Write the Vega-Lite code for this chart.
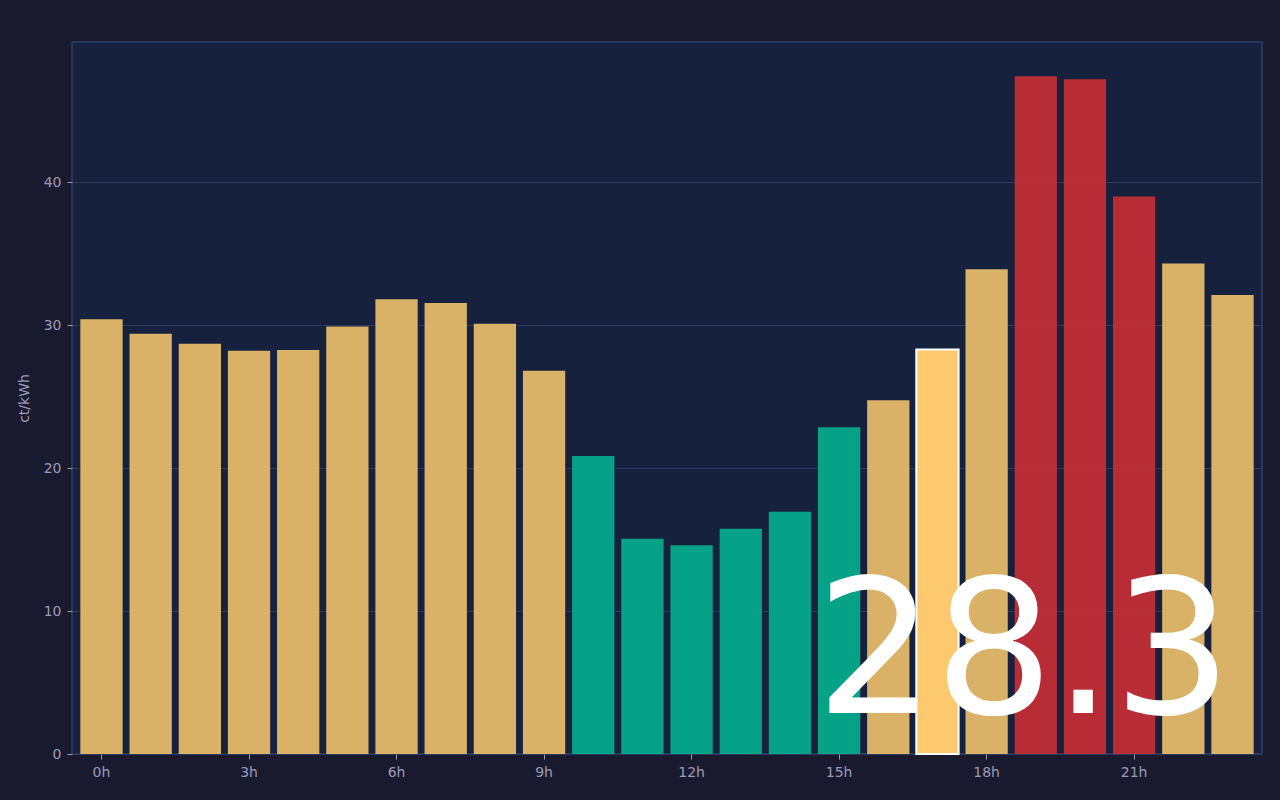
{
  "$schema": "https://vega.github.io/schema/vega-lite/v6.json",
  "width": 1190,
  "height": 712,
  "autosize": {"type": "none"},
  "padding": {"left": 72, "top": 42, "right": 18, "bottom": 46},
  "background": "#1a1a2e",
  "data": {
    "values": [
      {"hour": 0, "price": 30.4, "tier": "normal"},
      {"hour": 1, "price": 29.4, "tier": "normal"},
      {"hour": 2, "price": 28.7, "tier": "normal"},
      {"hour": 3, "price": 28.2, "tier": "normal"},
      {"hour": 4, "price": 28.25, "tier": "normal"},
      {"hour": 5, "price": 29.9, "tier": "normal"},
      {"hour": 6, "price": 31.8, "tier": "normal"},
      {"hour": 7, "price": 31.55, "tier": "normal"},
      {"hour": 8, "price": 30.1, "tier": "normal"},
      {"hour": 9, "price": 26.8, "tier": "normal"},
      {"hour": 10, "price": 20.85, "tier": "cheap"},
      {"hour": 11, "price": 15.05, "tier": "cheap"},
      {"hour": 12, "price": 14.6, "tier": "cheap"},
      {"hour": 13, "price": 15.75, "tier": "cheap"},
      {"hour": 14, "price": 16.95, "tier": "cheap"},
      {"hour": 15, "price": 22.85, "tier": "cheap"},
      {"hour": 16, "price": 24.75, "tier": "normal"},
      {"hour": 17, "price": 28.3, "tier": "normal", "current": true},
      {"hour": 18, "price": 33.9, "tier": "normal"},
      {"hour": 19, "price": 47.4, "tier": "peak"},
      {"hour": 20, "price": 47.2, "tier": "peak"},
      {"hour": 21, "price": 39.0, "tier": "peak"},
      {"hour": 22, "price": 34.3, "tier": "normal"},
      {"hour": 23, "price": 32.1, "tier": "normal"}
    ]
  },
  "encoding": {
    "x": {
      "field": "hour",
      "type": "ordinal",
      "scale": {"paddingInner": 0.14, "paddingOuter": 0.17},
      "axis": {
        "title": null,
        "values": [0, 3, 6, 9, 12, 15, 18, 21],
        "labelExpr": "datum.value + 'h'",
        "labelAngle": 0,
        "domain": false,
        "tickColor": "#9a9ab8",
        "tickSize": 5,
        "labelPadding": 6
      }
    },
    "y": {
      "field": "price",
      "type": "quantitative",
      "scale": {"domain": [0, 49.8], "nice": false},
      "axis": {
        "title": "ct/kWh",
        "values": [0, 10, 20, 30, 40],
        "grid": true,
        "gridColor": "#2b3a5e",
        "domain": false,
        "tickColor": "#9a9ab8",
        "tickSize": 5,
        "labelPadding": 6,
        "titlePadding": 12
      }
    }
  },
  "layer": [
    {
      "mark": {"type": "bar", "opacity": 0.9},
      "encoding": {
        "color": {
          "field": "tier",
          "type": "nominal",
          "legend": null,
          "scale": {
            "domain": ["normal", "cheap", "peak"],
            "range": ["#eec26c", "#04b08f", "#ca2e34"]
          }
        }
      }
    },
    {
      "transform": [{"filter": "datum.current"}],
      "mark": {"type": "bar", "fill": "#fdc96e", "stroke": "#ffffff", "strokeWidth": 2}
    },
    {
      "transform": [{"filter": "datum.current"}],
      "mark": {
        "type": "text",
        "align": "right",
        "baseline": "alphabetic",
        "fontSize": 187,
        "font": "DejaVu Sans",
        "color": "#ffffff",
        "dx": -30,
        "dy": -41
      },
      "encoding": {
        "x": {"value": "width"},
        "y": {"value": "height"},
        "text": {"field": "price", "type": "quantitative", "format": ".1f"}
      }
    }
  ],
  "config": {
    "font": "DejaVu Sans",
    "view": {"fill": "#16213e", "stroke": "#2e4068", "strokeWidth": 1.5},
    "axis": {
      "labelColor": "#9a9ab8",
      "titleColor": "#9a9ab8",
      "labelFontSize": 14,
      "titleFontSize": 14,
      "titleFontWeight": "normal",
      "labelFont": "DejaVu Sans",
      "titleFont": "DejaVu Sans"
    }
  }
}
